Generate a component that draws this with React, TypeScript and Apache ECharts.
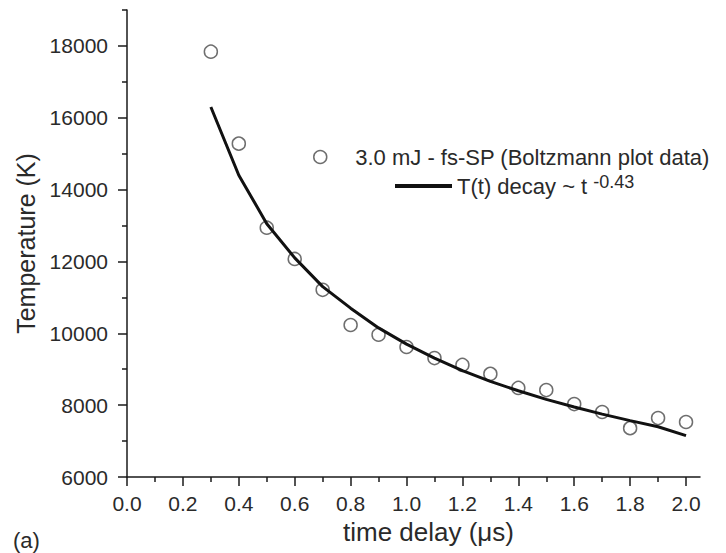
import React, { useEffect, useRef } from "react";
import * as echarts from "echarts";

const FONT = "'Liberation Sans', Arial, Helvetica, sans-serif";

const timeDelay = [0.3, 0.4, 0.5, 0.6, 0.7, 0.8, 0.9, 1.0, 1.1, 1.2, 1.3, 1.4, 1.5, 1.6, 1.7, 1.8, 1.9, 2.0];
const measuredT = [17840, 15280, 12940, 12070, 11210, 10230, 9960, 9620, 9310, 9120, 8870, 8480, 8420, 8030, 7810, 7360, 7640, 7530];
const fitT = [16300, 14400, 13050, 12100, 11300, 10700, 10150, 9700, 9310, 8960, 8660, 8400, 8160, 7950, 7750, 7570, 7400, 7150];

const xMajorTicks = [0, 0.2, 0.4, 0.6, 0.8, 1.0, 1.2, 1.4, 1.6, 1.8, 2.0];
const xMinorTicks = [0.1, 0.3, 0.5, 0.7, 0.9, 1.1, 1.3, 1.5, 1.7, 1.9];
const yMajorTicks = [6000, 8000, 10000, 12000, 14000, 16000, 18000];
const yMinorTicks = [7000, 9000, 11000, 13000, 15000, 17000, 19000];

const dataName = "3.0 mJ - fs-SP (Boltzmann plot data)";
const fitName = "T(t) decay ~ t -0.43";

export default function App() {
  const ref = useRef<HTMLDivElement>(null);
  useEffect(() => {
    if (!ref.current) return;
    const chart = echarts.init(ref.current, null, { renderer: "svg" });
    const axisColor = "#1a1a1a";
    const textColor = "#2a2a2a";
    chart.setOption({
      animation: false,
      backgroundColor: "#ffffff",
      grid: { left: 127, right: 26, top: 10, bottom: 76 },
      xAxis: [
        {
          type: "value",
          min: 0,
          max: 2.05,
          position: "bottom",
          name: "time delay (\u03bcs)",
          nameLocation: "middle",
          nameGap: 39,
          nameTextStyle: { fontFamily: FONT, fontSize: 26, color: textColor, padding: [0, 0, 0, 30] },
          axisLine: { show: true, lineStyle: { color: axisColor, width: 1.5 } },
          axisTick: { show: true, length: 9, customValues: xMajorTicks, lineStyle: { color: axisColor, width: 1.5 } },
          axisLabel: {
            show: true,
            customValues: xMajorTicks,
            margin: 16,
            fontFamily: FONT,
            fontSize: 21,
            color: textColor,
            formatter: (v: number) => v.toFixed(1),
          },
          splitLine: { show: false },
        },
        {
          type: "value",
          min: 0,
          max: 2.05,
          position: "bottom",
          axisLine: { show: false },
          axisTick: { show: true, length: 5, customValues: xMinorTicks, lineStyle: { color: axisColor, width: 1.5 } },
          axisLabel: { show: false },
          splitLine: { show: false },
        },
      ],
      yAxis: [
        {
          type: "value",
          min: 6000,
          max: 19000,
          position: "left",
          name: "Temperature (K)",
          nameLocation: "middle",
          nameGap: 88,
          nameTextStyle: { fontFamily: FONT, fontSize: 25, color: textColor },
          axisLine: { show: true, lineStyle: { color: axisColor, width: 1.5 } },
          axisTick: { show: true, length: 9, customValues: yMajorTicks, lineStyle: { color: axisColor, width: 1.5 } },
          axisLabel: {
            show: true,
            customValues: yMajorTicks,
            margin: 19,
            fontFamily: FONT,
            fontSize: 21,
            color: textColor,
            formatter: (v: number) => String(v),
          },
          splitLine: { show: false },
        },
        {
          type: "value",
          min: 6000,
          max: 19000,
          position: "left",
          axisLine: { show: false },
          axisTick: { show: true, length: 5, customValues: yMinorTicks, lineStyle: { color: axisColor, width: 1.5 } },
          axisLabel: { show: false },
          splitLine: { show: false },
        },
      ],
      legend: [
        {
          data: [
            {
              name: dataName,
              icon: "circle",
              itemStyle: { color: "rgba(0,0,0,0)", borderColor: "#4a4a4a", borderWidth: 1.5 },
            },
          ],
          left: 313,
          top: 146,
          padding: 0,
          itemWidth: 60,
          itemHeight: 13,
          selectedMode: false,
          textStyle: { fontFamily: FONT, fontSize: 22, lineHeight: 20, color: textColor },
        },
        {
          data: [{ name: fitName }],
          left: 393,
          top: 173,
          padding: 0,
          itemWidth: 57,
          itemHeight: 14,
          selectedMode: false,
          lineStyle: { width: 4, color: "#111" },
          itemStyle: { color: "#111", opacity: 0 },
          formatter: () => "{a|T(t) decay ~ t} {b|-0.43}",
          textStyle: {
            fontFamily: FONT,
            fontSize: 22,
            color: textColor,
            rich: {
              a: { fontFamily: FONT, fontSize: 22, lineHeight: 20, color: textColor },
              b: { fontFamily: FONT, fontSize: 18, lineHeight: 16, padding: [0, 0, 8, 0], color: textColor },
            },
          },
        },
      ],
      series: [
        {
          name: dataName,
          type: "scatter",
          symbol: "circle",
          symbolSize: 13,
          itemStyle: { color: "rgba(0,0,0,0)", borderColor: "#4a4a4a", borderWidth: 1.5 },
          data: timeDelay.map((t, i) => [t, measuredT[i]]),
        },
        {
          name: fitName,
          type: "line",
          symbol: "none",
          showSymbol: false,
          smooth: false,
          color: "#111",
          itemStyle: { color: "#111" },
          lineStyle: { color: "#111", width: 3 },
          data: timeDelay.map((t, i) => [t, fitT[i]]),
        },
      ],
      graphic: [
        {
          type: "text",
          left: 13,
          top: 529,
          style: { text: "(a)", fontFamily: FONT, fontSize: 22, fill: textColor },
        },
      ],
    });
    return () => chart.dispose();
  }, []);
  return <div ref={ref} style={{ width: 726, height: 553, position: "absolute", left: 0, top: 0 }} />;
}
